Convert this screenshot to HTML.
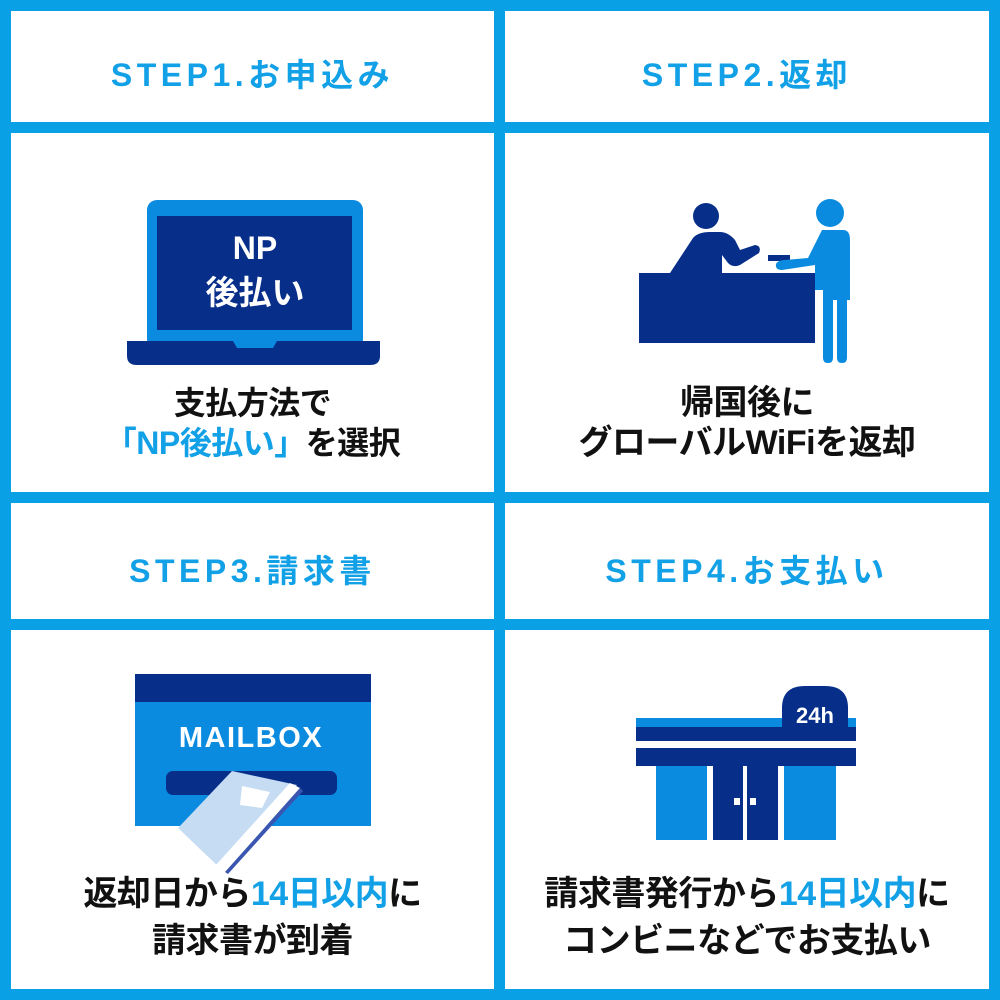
<!DOCTYPE html>
<html><head><meta charset="utf-8"><style>
*{margin:0;padding:0;box-sizing:border-box}
body{width:1000px;height:1000px;background:#0aa0e6;position:relative;overflow:hidden;font-family:"Liberation Sans","Noto Sans CJK JP",sans-serif}
.c{position:absolute;background:#fff}
.h{color:#12a0e6;font-weight:bold;font-size:32px;letter-spacing:4.5px;text-align:center;position:absolute;width:100%}
.t{position:absolute;width:100%;text-align:center;font-weight:bold;font-size:34px;line-height:42px;color:#111;letter-spacing:-0.5px}
.b{color:#12a0e6}
svg{position:absolute;left:0;top:0}
</style></head><body>
<div class="c" style="left:11px;top:11px;width:483px;height:111px"><div class="h" style="top:39px">STEP1.お申込み</div></div>
<div class="c" style="left:505px;top:11px;width:484px;height:111px"><div class="h" style="top:39px">STEP2.返却</div></div>
<div class="c" style="left:11px;top:133px;width:483px;height:359px"><div class="t" style="top:250px;font-size:32px;line-height:40px">支払方法で<br><span class="b">「NP後払い」</span>を選択</div></div>
<div class="c" style="left:505px;top:133px;width:484px;height:359px"><div class="t" style="top:250px;line-height:40px">帰国後に<br>グローバルWiFiを返却</div></div>
<div class="c" style="left:11px;top:503px;width:483px;height:116px"><div class="h" style="top:43px">STEP3.請求書</div></div>
<div class="c" style="left:505px;top:503px;width:484px;height:116px"><div class="h" style="top:43px">STEP4.お支払い</div></div>
<div class="c" style="left:11px;top:630px;width:483px;height:359px"><div class="t" style="top:241px;line-height:47px">返却日から<span class="b">14日以内</span>に<br>請求書が到着</div></div>
<div class="c" style="left:505px;top:630px;width:484px;height:359px"><div class="t" style="top:241px;line-height:47px">請求書発行から<span class="b">14日以内</span>に<br>コンビニなどでお支払い</div></div>
<svg width="1000" height="1000" viewBox="0 0 1000 1000">
<rect x="147" y="200" width="216" height="150" rx="10" fill="#0a8be0"/>
<rect x="157" y="216" width="195" height="114" fill="#072f8a"/>
<path d="M127 341 H233 L237 348 H273 L277 341 H380 V356 Q380 365 370 365 H137 Q127 365 127 356 Z" fill="#072f8a"/>
<text x="255" y="259" fill="#fff" font-size="32" font-weight="bold" text-anchor="middle" font-family="Liberation Sans,sans-serif">NP</text>
<text x="255" y="304" fill="#fff" font-size="33" font-weight="bold" text-anchor="middle" font-family="Liberation Sans,Noto Sans CJK JP,sans-serif">後払い</text>
<circle cx="706" cy="216" r="13" fill="#072f8a"/>
<path d="M670 273 L693 238 Q698 232 710 232 L720 232 Q728 232 735 240 L740 250 L755 245 Q762 246 759 253 L740 265 Q733 268 728 263 L722 255 L722 273 Z" fill="#072f8a"/>
<rect x="639" y="273" width="176" height="70" fill="#072f8a"/>
<rect x="768" y="255" width="22" height="6" fill="#072f8a"/>
<circle cx="830" cy="213" r="14" fill="#0a8be0"/>
<path d="M822 230 H843 Q850 230 850 240 V300 L847 300 L847 358 Q847 363 842 363 Q837 363 837 358 V300 H833 V358 Q833 363 828 363 Q823 363 823 358 V290 L815 290 V265 L782 270 Q775 270 776 264 Q778 260 785 260 L808 258 Z" fill="#0a8be0"/>
<rect x="135" y="674" width="236" height="28" fill="#072f8a"/>
<rect x="135" y="702" width="236" height="124" fill="#0a8be0"/>
<text x="251" y="747" fill="#fff" font-size="29" font-weight="bold" text-anchor="middle" letter-spacing="1.5" font-family="Liberation Sans,sans-serif">MAILBOX</text>
<rect x="166" y="771" width="171" height="24" rx="7" fill="#072f8a"/>
<polygon points="232,771 297,785 222,870 178,828" fill="#c5dcf3"/>
<polygon points="290,783 300,788 225,872 215,866" fill="#fff"/>
<polygon points="300,788 303,791 228,874 225,872" fill="#3a56b0"/>
<polygon points="242,786 270,792 262,808 240,805" fill="#fff"/>
<rect x="636" y="718" width="220" height="9" fill="#0a8be0"/>
<rect x="636" y="727" width="220" height="14" fill="#072f8a"/>
<rect x="636" y="748" width="220" height="18" fill="#072f8a"/>
<path d="M782 740 V708 Q782 686 805 686 H825 Q848 686 848 708 V740 Z" fill="#072f8a"/>
<text x="815" y="723" fill="#fff" font-size="22" font-weight="bold" text-anchor="middle" font-family="Liberation Sans,sans-serif">24h</text>
<rect x="656" y="766" width="51" height="74" fill="#0a8be0"/>
<rect x="784" y="766" width="52" height="74" fill="#0a8be0"/>
<rect x="713" y="766" width="30" height="74" fill="#072f8a"/>
<rect x="747" y="766" width="31" height="74" fill="#072f8a"/>
<rect x="734" y="798" width="6" height="7" fill="#fff"/>
<rect x="750" y="798" width="6" height="7" fill="#fff"/>
</svg>
</body></html>
